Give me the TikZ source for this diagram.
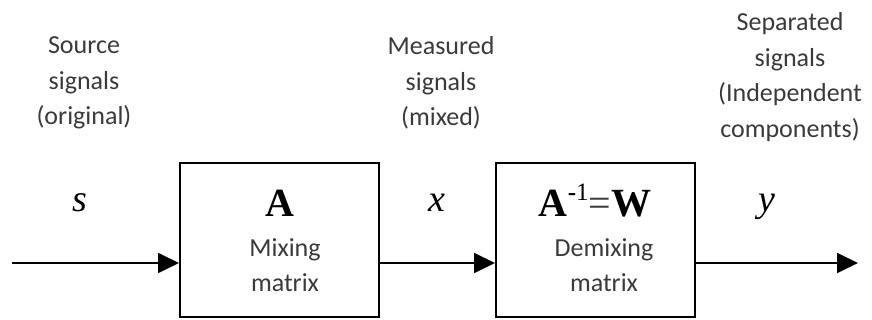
\documentclass[tikz,border=0pt]{standalone}
\usepackage{fontspec}
\setmainfont{Carlito}
\newfontfamily\tnr{Liberation Serif}
\usetikzlibrary{arrows.meta}
\definecolor{lbl}{HTML}{3A3A3A}
\begin{document}
\begin{tikzpicture}[x=1pt,y=-1pt,
  blk/.style={draw=black,line width=2pt,minimum width=199pt,minimum height=154pt,inner sep=0pt},
  lbltxt/.style={text=lbl,align=center,font=\fontsize{26}{35.5}\selectfont,inner sep=0pt},
  var/.style={font=\tnr\itshape\fontsize{38}{40}\selectfont,inner sep=0pt,anchor=base},
  mat/.style={font=\tnr\bfseries\fontsize{40}{40}\selectfont,inner sep=0pt,anchor=base},
  sig/.style={line width=1.8pt,-{Triangle[length=21pt,width=20pt]}}]
\useasboundingbox (0,0) rectangle (872,320);
\node[blk] (mix) at (279.5,240) {};
\node[blk] (demix) at (595.5,240) {};
\node[lbltxt] (src) at (84,83) {Source\\signals\\(original)};
\node[lbltxt] (meas) at (441,83) {Measured\\signals\\(mixed)};
\node[lbltxt] (sep) at (790,77) {Separated\\signals\\(Independent\\components)};
\node[var] (s) at (80,212) {s};
\node[var] (x) at (437,212) {x};
\node[var] (y) at (767,212) {y};
\node[mat] (A) at (280,217) {A};
\node[mat] (W) at (595,217) {A\raisebox{0.42em}{\fontsize{25}{25}\selectfont-{\mdseries 1}}{\mdseries\color{lbl}=}W};
\node[lbltxt] (mixl) at (285,265) {Mixing\\matrix};
\node[lbltxt] (demixl) at (604,265) {Demixing\\matrix};
\coordinate (in) at (12,263);
\coordinate (out) at (858,263);
\draw[sig] (in) -- (in -| mix.west);
\draw[sig] (in -| mix.east) -- (in -| demix.west);
\draw[sig] (in -| demix.east) -- (out);
\end{tikzpicture}
\end{document}
